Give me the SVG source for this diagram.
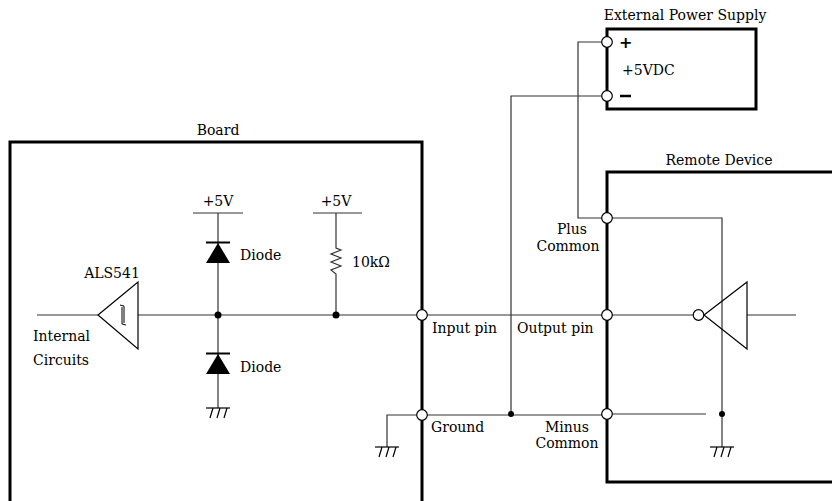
<svg xmlns="http://www.w3.org/2000/svg" width="832" height="501" viewBox="0 0 832 501">
<defs>
<style>
text{font-family:"DejaVu Serif","Liberation Serif",serif;font-size:14px;fill:#000}
.box{fill:none;stroke:#000;stroke-width:3}
.w{fill:none;stroke:#333;stroke-width:1.2}
.pin{fill:#fff;stroke:#000;stroke-width:1.2}
.dot{fill:#000}
.sym{fill:#000;font-family:"DejaVu Sans",sans-serif;font-weight:bold;font-size:16px}
</style>
<g id="gnd">
<line x1="-12" y1="0" x2="12" y2="0" stroke="#000" stroke-width="1.2"/>
<path d="M-5,0 L-8,10 M2,0 L-1,10 M9,0 L6,10" fill="none" stroke="#000" stroke-width="1.2"/>
</g>
</defs>
<rect width="832" height="501" fill="#fff"/>

<g id="connectors">
<!-- board signal line -->
<polyline class="w" points="37,315 98,315"/>
<polyline class="w" points="138,315 422,315"/>
<!-- input to output pin -->
<polyline class="w" points="422,315 607,315"/>
<!-- diode column -->
<line class="w" x1="218" y1="213" x2="218" y2="408"/>
<line class="w" x1="193" y1="213" x2="243" y2="213"/>
<!-- resistor column -->
<line class="w" x1="313" y1="213" x2="362" y2="213"/>
<polyline class="w" points="336,213 336,248 341,250 331,254 341,258 331,262 341,266 331,270 336,274 336,315"/>
<!-- board ground -->
<polyline class="w" points="422,415 387,415 387,447"/>
<line class="w" x1="422" y1="415" x2="607" y2="415"/>
<!-- PSU minus -->
<polyline class="w" points="511,415 511,96 607,96"/>
<!-- PSU plus -->
<polyline class="w" points="607,218 578,218 578,42 607,42"/>
<!-- remote device internals -->
<polyline class="w" points="607,218 722,218 722,447"/>
<line class="w" x1="607" y1="315" x2="693" y2="315"/>
<line class="w" x1="747" y1="315" x2="796" y2="315"/>
<line class="w" x1="607" y1="414" x2="706" y2="414"/>
</g>

<g id="board">
<rect class="box" x="10" y="142" width="412" height="380"/>
<text x="218" y="135" text-anchor="middle">Board</text>
</g>

<g id="als541">
<polygon points="98,315 138,282 138,349" fill="#fff" stroke="#000" stroke-width="1.2"/>
<path d="M120,305 L124,306 L124,323 M122,307 L122,324 L126,325" fill="none" stroke="#000" stroke-width="1"/>
<text x="112" y="278" text-anchor="middle">ALS541</text>
<text x="33" y="341">Internal</text>
<text x="33" y="365">Circuits</text>
</g>

<g id="diode-top">
<text x="218" y="206" text-anchor="middle">+5V</text>
<polygon points="218,243 206,263 230,263" fill="#000"/>
<line x1="206" y1="242.5" x2="230" y2="242.5" stroke="#000" stroke-width="2"/>
<text x="240" y="260">Diode</text>
</g>

<g id="diode-bottom">
<polygon points="218,354 206,374 230,374" fill="#000"/>
<line x1="206" y1="353.5" x2="230" y2="353.5" stroke="#000" stroke-width="2"/>
<text x="240" y="372">Diode</text>
<use href="#gnd" x="218" y="408"/>
</g>

<g id="resistor">
<text x="336" y="206" text-anchor="middle">+5V</text>
<text x="352" y="267">10kΩ</text>
</g>

<g id="junctions">
<circle class="dot" cx="218" cy="315" r="3.5"/>
<circle class="dot" cx="336" cy="315" r="3.5"/>
<circle class="dot" cx="511" cy="414" r="3"/>
<circle class="dot" cx="722" cy="414" r="3"/>
</g>

<g id="board-ground">
<use href="#gnd" x="387" y="447"/>
</g>

<g id="board-pins">
<circle class="pin" cx="422" cy="315" r="5.3"/>
<circle class="pin" cx="422" cy="415" r="5.3"/>
<text x="432" y="333">Input pin</text>
<text x="431" y="432">Ground</text>
</g>

<g id="psu">
<rect class="box" x="607" y="29" width="149" height="80"/>
<text x="685" y="20" text-anchor="middle">External Power Supply</text>
<text x="622" y="75">+5VDC</text>
<text class="sym" x="619" y="48">+</text>
<line x1="620" y1="96" x2="631" y2="96" stroke="#000" stroke-width="2.5"/>
<circle class="pin" cx="607" cy="42" r="5.3"/>
<circle class="pin" cx="607" cy="96" r="5.3"/>
</g>

<g id="remote-device">
<polyline class="box" points="840,172 607,172 607,482 840,482"/>
<text x="719" y="165" text-anchor="middle">Remote Device</text>
<circle class="pin" cx="607" cy="218" r="5.3"/>
<circle class="pin" cx="607" cy="315" r="5.3"/>
<circle class="pin" cx="607" cy="414" r="5.3"/>
<text x="572" y="234" text-anchor="middle">Plus</text>
<text x="568" y="251" text-anchor="middle">Common</text>
<text x="517" y="333">Output pin</text>
<text x="567" y="432" text-anchor="middle">Minus</text>
<text x="567" y="448" text-anchor="middle">Common</text>
</g>

<g id="remote-inverter">
<polygon points="704,315 747,282 747,349" fill="none" stroke="#000" stroke-width="1.2"/>
<circle class="pin" cx="698.5" cy="315" r="5.3"/>
<use href="#gnd" x="722" y="447"/>
</g>
</svg>
